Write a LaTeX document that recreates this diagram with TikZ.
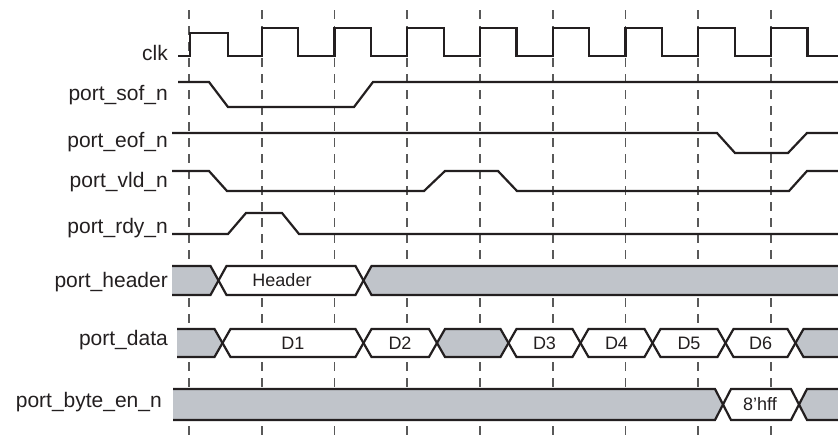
\documentclass[tikz,border=0pt]{standalone}
\usepackage{fontspec}
\setmainfont{Liberation Sans}
\definecolor{ink}{RGB}{35,31,32}
\definecolor{busgray}{RGB}{192,196,202}

\begin{document}
\begin{tikzpicture}[x=1pt,y=-1pt,
    sig/.style={ink,line width=2.2pt,line join=miter},
    tick/.style={black!65,line width=1.6pt,dash pattern=on 9pt off 7pt},
    lbl/.style={anchor=base east,inner sep=0pt,text=ink,font=\fontsize{21}{24}\selectfont},
    val/.style={inner sep=0pt,text=ink,font=\fontsize{18}{21}\selectfont}]
    \useasboundingbox (0,0) rectangle (838,442);
    \def\T{72.75} \def\h{8}
    \def\seg#1#2#3{\filldraw[sig,fill=#3] (#1,\bm) -- (#1+\h,\bt) -- (#2-\h,\bt) -- (#2,\bm) -- (#2-\h,\bb) -- (#1+\h,\bb) -- cycle;}
    \foreach \i in {0,...,8} \draw[tick] (189+\T*\i,10) -- (189+\T*\i,442);
    \node[lbl] (clk) at (168,60) {clk};
    \node[lbl] (sof) at (168,100) {port\_sof\_n};
    \node[lbl] (eof) at (168,147) {port\_eof\_n};
    \node[lbl] (vld) at (168,187) {port\_vld\_n};
    \node[lbl] (rdy) at (168,233) {port\_rdy\_n};
    \node[lbl] (hdr) at (168,287) {port\_header};
    \node[lbl] (dat) at (168,345) {port\_data};
    \node[lbl] (ben) at (162,407) {port\_byte\_en\_n};
    \draw[sig] (178,56) -- (190,56) -- (190,33) -- (228,33) -- (228,56)
      \foreach \i in {1,...,8} { -- (189+\T*\i,56) -- (189+\T*\i,28) -- (225.5+\T*\i,28) -- (225.5+\T*\i,56) } -- (838,56);
    \draw[sig] (178,82) -- (209,82) -- (228,107) -- (354,107) -- (373,82) -- (838,82);
    \draw[sig] (172,133) -- (717,133) -- (735,153) -- (788,153) -- (807,133) -- (838,133);
    \draw[sig] (172,171) -- (209,171) -- (227,191) -- (424,191) -- (445,171) -- (498,171) -- (517,191)
      -- (789,191) -- (807,171) -- (838,171);
    \draw[sig] (172,234) -- (228,234) -- (246,213) -- (282,213) -- (299,234) -- (838,234);
    \begin{scope}
      \clip (172,0) rectangle (838,442);
      \def\bt{266} \def\bb{295} \def\bm{280.5}
      \seg{150}{218.5}{busgray} \seg{218.5}{363.5}{white} \seg{363.5}{870}{busgray}
      \node[val] (vhdr) at (282,\bm) {Header};
    \end{scope}
    \begin{scope}
      \clip (177,0) rectangle (838,442);
      \def\bt{329} \def\bb{357} \def\bm{343}
      \seg{150}{222.5}{busgray} \seg{222.5}{363.5}{white} \seg{363.5}{437}{white}
      \seg{437}{508.5}{busgray} \seg{508.5}{580.5}{white} \seg{580.5}{652.5}{white}
      \seg{652.5}{725.5}{white} \seg{725.5}{795.5}{white} \seg{795.5}{870}{busgray}
      \node[val] (d1) at (293,\bm) {D1};
      \node[val] (d2) at (400,\bm) {D2};
      \node[val] (d3) at (544.5,\bm) {D3};
      \node[val] (d4) at (616.5,\bm) {D4};
      \node[val] (d5) at (689,\bm) {D5};
      \node[val] (d6) at (760.5,\bm) {D6};
    \end{scope}
    \begin{scope}
      \clip (173,0) rectangle (838,442);
      \def\bt{389} \def\bb{420} \def\bm{404.5}
      \seg{150}{723}{busgray} \seg{723}{799}{white} \seg{799}{870}{busgray}
      \node[val] (vben) at (760,\bm) {8'hff};
    \end{scope}
\end{tikzpicture}
\end{document}
